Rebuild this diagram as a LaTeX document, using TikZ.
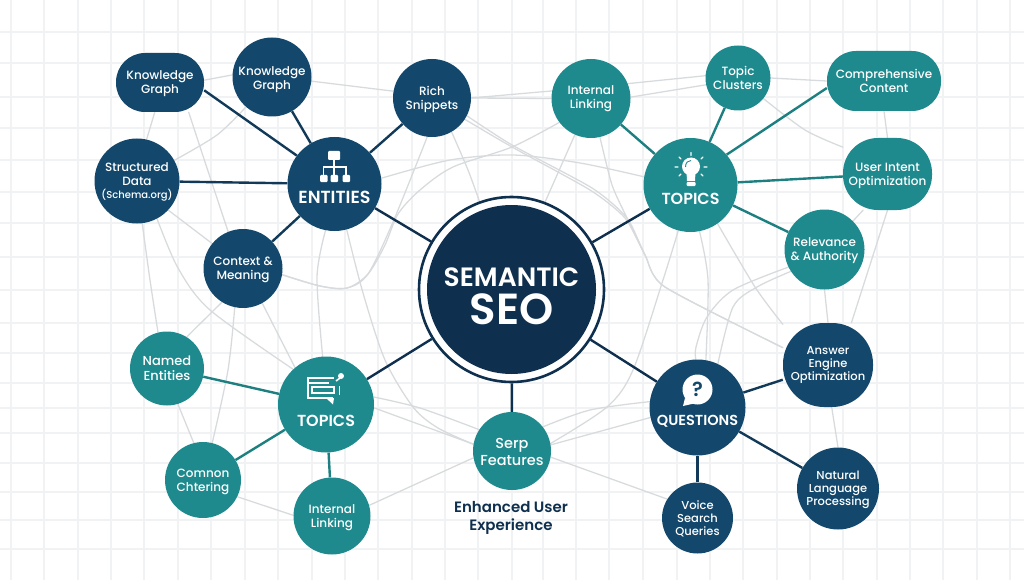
\documentclass[tikz,border=0pt]{standalone}
\usepackage{fontspec}
\setmainfont{Poppins}
\newfontfamily\pmed{Poppins Medium}
\newfontfamily\psemi{Poppins SemiBold}
\usetikzlibrary{backgrounds}
\definecolor{navy}{HTML}{0E2F4D}
\definecolor{deep}{HTML}{13486C}
\definecolor{spokeblue}{HTML}{123A58}
\definecolor{teal1}{HTML}{1E8A8E}
\definecolor{tealline}{HTML}{1D7F80}
\definecolor{gridc}{HTML}{F0F2F3}
\definecolor{linkc}{HTML}{D8DBDD}
\newcommand\dn[1]{\rule{0pt}{\dimexpr 8.9pt+#1pt*2\relax}}
\tikzset{
 blob/.style={inner sep=0pt,align=center,text=white,font=\pmed\fontsize{12}{14}\selectfont},
 dk/.style={blob,circle,fill=deep},
 tl/.style={blob,circle,fill=teal1},
 dkr/.style={blob,rectangle,fill=deep},
 tlr/.style={blob,rectangle,fill=teal1},
 hubtext/.style={inner sep=0pt,text=white,font=\psemi\fontsize{16}{18}\selectfont},
 link/.style={draw=linkc,line width=1.3pt,line cap=round},
 spokeD/.style={draw=navy,line width=2.4pt},
 spokeB/.style={draw=spokeblue,line width=2.4pt},
 spokeT/.style={draw=tealline,line width=2.4pt},
 gridl/.style={draw=gridc,line width=1.1pt},
 ic/.style={fill=white,draw=none},
 icl/.style={draw=white,line width=1.1pt},
}
\begin{document}
\begin{tikzpicture}[x=1pt,y=-1pt]
\useasboundingbox (0,0) rectangle (1024,580);
% nodes
\node[circle,fill=white,draw=navy,line width=2.6pt,minimum size=185pt,inner sep=0pt] (sem) at (511.5,289.5) {};
\node[circle,fill=navy,minimum size=169pt,inner sep=0pt] (semin) at (511.5,289.5) {};
\node[inner sep=0pt,text=white,font=\psemi\fontsize{26.5}{28}\selectfont] (semt) at (511.5,277) {SEMANTIC};
\node[inner sep=0pt,text=white,font=\psemi\fontsize{43.5}{46}\selectfont] (seot) at (511.5,309) {SEO};

\node[dkr,rounded corners=29pt,minimum width=88pt,minimum height=59pt] (kgA) at (160,82.5) {\dn{1}Knowledge\\Graph};
\node[dk,minimum size=79pt] (kgB) at (272,77) {\dn{2.5}Knowledge\\Graph};
\node[dk,minimum size=78pt] (rich) at (432,98) {\dn{2}Rich\\Snippets};
\node[dk,minimum size=85pt,font=\pmed\fontsize{12}{13.5}\selectfont] (sd) at (137,181) {\dn{1}Structured\\Data\\{\fontsize{10}{13}\selectfont (Schema.org)}};
\node[dk,minimum size=79pt] (ctx) at (243,268.5) {\dn{1}Context \&\\Meaning};
\node[dk,minimum size=94pt] (ent) at (334.5,184) {};
\node[hubtext,font=\psemi\fontsize{17.5}{18}\selectfont] (entt) at (334.5,197) {ENTITIES};

\node[tl,minimum size=79pt] (il) at (591,98.5) {Internal\\Linking};
\node[tl,minimum size=65pt] (tc) at (738,78) {Topic\\Clusters};
\node[tlr,rounded corners=29pt,minimum width=114pt,minimum height=60pt] (cc) at (884,81) {Comprehensive\\Content};
\node[tlr,rounded corners=35pt,minimum width=89pt,minimum height=72pt] (ui) at (887.5,174) {\dn{2}User Intent\\Optimization};
\node[tl,minimum size=94pt] (top) at (690.5,185) {};
\node[hubtext] (topt) at (690.5,199) {TOPICS};
\node[tl,minimum size=80pt] (rel) at (824.5,249.5) {\dn{1}Relevance\\\& Authority};

\node[tl,minimum size=74pt,font=\pmed\fontsize{13}{15}\selectfont] (ne) at (167,368.5) {Named\\Entities};
\node[tl,minimum size=96pt] (tb) at (326,404.5) {};
\node[hubtext] (tbt) at (326,421) {TOPICS};
\node[tl,minimum size=76pt] (cm) at (203,480) {\dn{2}Comnon\\Chtering};
\node[tl,minimum size=77pt] (ib) at (332,516) {\dn{2}Internal\\Linking};
\node[tl,minimum size=78pt,font=\pmed\fontsize{14.5}{17}\selectfont] (serp) at (512,451) {\rule{0pt}{13pt}Serp\\Features};
\node[inner sep=0pt,align=center,text=navy,font=\psemi\fontsize{15}{18}\selectfont] (enh) at (511,518) {Enhanced User\\Experience};

\node[dk,minimum size=96pt] (q) at (697.5,407.5) {};
\node[hubtext,font=\psemi\fontsize{14.5}{18}\selectfont] (qt) at (697.5,421) {QUESTIONS};
\node[dkr,rounded corners=41pt,minimum width=90pt,minimum height=84pt,font=\pmed\fontsize{11.5}{13.2}\selectfont] (aeo) at (828,365) {Answer\\Engine\\Optimization};
\node[dk,minimum size=82pt,font=\pmed\fontsize{11.5}{13.2}\selectfont] (nlp) at (838,488.5) {\dn{1}Natural\\Language\\Processing};
\node[dk,minimum size=71pt,font=\pmed\fontsize{11.5}{13.2}\selectfont] (vq) at (697.5,518) {\dn{1}Voice\\Search\\Queries};

% icons
\fill[ic,rounded corners=1pt] (328,151) rectangle (340,160);
\draw[icl] (334,160) -- (334,175) (323.5,175) -- (323.5,167) -- (346,167) -- (346,175);
\foreach \ix in {320,330.5,342.5}{\fill[ic,rounded corners=1pt] (\ix,175) rectangle ++(7.5,7);}

\fill[ic] (691,166.5) circle (9pt);
\fill[ic] (686.5,172) -- (695.5,172) -- (695,181) -- (687,181) -- cycle;
\fill[ic,rounded corners=1pt] (686.5,182) rectangle (695.5,186);
\draw[teal1,line width=.9pt] (685.5,167) .. controls (685.5,162.5) and (688,160.5) .. (691,160.5);
\draw[icl,line width=1.2pt,line cap=round] (691,152.5)--(691,155.5) (679,157)--(681,159) (703,157)--(701,159) (675,167)--(678,167) (704,167)--(707,167) (679,176)--(681,174) (703,176)--(701,174);

\draw[icl,line width=2.6pt] (307,378) -- (334,378) (307,398) -- (333,398);
\draw[icl,line width=1.8pt] (308,378) -- (308,398) (308,383) -- (329,383);
\draw[icl,line width=1.4pt] (312,387) rectangle (334,393);
\fill[ic] (326,398) -- (334,398) -- (333,404.5) -- cycle;
\fill[ic] (341,376) circle (3pt);
\draw[icl,line width=1.6pt] (340,378) -- (336,381);
\draw[icl,line width=1.2pt] (339.5,386) -- (339.5,395);

\fill[ic] (697.5,389.5) circle (15pt);
\fill[ic] (685,398) -- (683,406) -- (694,403.5) -- cycle;
\node[inner sep=0pt,text=deep,font=\psemi\fontsize{20}{20}\selectfont] (qm) at (697.5,389.5) {?};

\begin{pgfonlayer}{background}
% grid
\foreach \gx in {11,44,78,111,144,178,211,245,278,312,345,378,412,445,478,512,543,576,609,643,677,710,743,777,810,843,877,910,943,977,1010}
  {\draw[gridl] (\gx,0) -- (\gx,580);}
\foreach \gy in {32,63,97,128,160,192,223,257,290,323,353,383,408,433,463,492,520,549}
  {\draw[gridl] (0,\gy) -- (1024,\gy);}
% gray links
\draw[link] (kgA.3) -- (kgB.177);
\draw[link] (kgB.-6) -- (rich.170);
\draw[link] (kgA.260) -- (sd.77);
\draw[link] plot[smooth] coordinates {(kgA.-46) (206,165) (ctx.112)};
\draw[link] plot[smooth] coordinates {(kgB.229) (217,135) (sd.29)};
\draw[link] (sd.-43) -- (ctx.141);
\draw[link] plot[smooth] coordinates {(sd.-83) (150,280) (ne.104)};
\draw[link] plot[smooth] coordinates {(sd.-62) (178,268) (210,310) (tb.133)};
\draw[link] (ctx.238) -- (ne.58);
\draw[link] plot[smooth] coordinates {(ctx.258) (228,370) (cm.76)};
\draw[link] (ctx.-61) -- (tb.130);
\draw[link] (ne.-73) -- (cm.104);
\draw[link] (cm.-26) -- (ib.179);
\draw[link] (ib.16) -- (serp.190);
\draw[link] plot[smooth] coordinates {(tb.9) (420,408) (serp.147)};
\draw[link] (tb.-4) -- (serp.170);
\draw[link] plot[smooth] coordinates {(ent.259) (317,277) (tb.94)};
\draw[link] plot[smooth] coordinates {(ent.-75) (363,293) (385,360) (413,407) (438,428) (serp.170)};
\draw[link] plot[smooth,tension=.5] coordinates {(ctx.-9) (320,286) (347,288) (368,274) (393,222) (rich.263)};
\draw[link] plot[smooth,tension=.5] coordinates {(il.217) (512,147) (453,167) (420,190) (398,214) (385,245) (368,274) (347,288) (320,286) (ctx.-9)};
\draw[link] plot[smooth] coordinates {(ent.7) (450,160) (513,155) (580,163) (top.170)};
\draw[link] plot[smooth,tension=.4] coordinates {(rich.-33) (512,147) (590,190) (625,218) (645,255) (665,287) (aeo.159)};
\draw[link] plot[smooth,tension=.4] coordinates {(rich.-27) (512,145) (592,188) (627,218) (645,255) (665,287) (aeo.159)};
\draw[link] plot[smooth,tension=.4] coordinates {(il.283) (612,185) (627,218) (645,255)};
\draw[link] plot[smooth] coordinates {(rich.-60) (468,170) (sem.110)};
\draw[link] (il.246) -- (sem.69);
\draw[link] (rich.0) -- (il.169);
\draw[link] (rich.0) -- (il.180);
\draw[link] (il.22) -- (tc.176);
\draw[link] (il.2) -- (tc.192);
\draw[link] (tc.0) -- (cc.180);
\draw[link] plot[smooth] coordinates {(tc.-39) (805,130) (ui.149)};
\draw[link] (cc.270) -- (ui.90);
\draw[link] (ui.236) -- (rel.45);
\draw[link] (ui.-90) -- (aeo.61);
\draw[link] (rel.270) -- (aeo.90);
\draw[link] (aeo.-85) -- (nlp.90);
\draw[link] plot[smooth] coordinates {(top.255) (663,280) (633,370) (607,407) (serp.11)};
\draw[link] plot[smooth] coordinates {(top.-79) (708,280) (q.80)};
\draw[link] plot[smooth] coordinates {(top.-55) (755,287) (aeo.138)};
\draw[link] plot[smooth] coordinates {(rel.206) (733,290) (707,317) (696,347) (q.92)};
\draw[link] plot[smooth] coordinates {(rel.213) (757,287) (733,307) (q.65)};
\draw[link] plot[smooth] coordinates {(serp.38) (590,410) (q.173)};
\draw[link] (serp.9) -- (q.192);
\draw[link] (serp.-9) -- (vq.148);
% spokes
\draw[spokeD] (sem) -- (ent);
\draw[spokeD] (sem) -- (top);
\draw[spokeD] (sem) -- (tb);
\draw[spokeD] (sem) -- (q);
\draw[spokeD] (sem) -- (serp);
\draw[spokeB] (kgA.-10) -- (ent.143);
\draw[spokeB] (kgB) -- (ent);
\draw[spokeB] (rich) -- (ent);
\draw[spokeB] (sd) -- (ent);
\draw[spokeB] (ctx) -- (ent);
\draw[spokeT] (il) -- (top);
\draw[spokeT] (tc) -- (top);
\draw[spokeT] (cc.187) -- (top.40);
\draw[spokeT] (ui) -- (top);
\draw[spokeT] (rel) -- (top);
\draw[spokeT] (ne) -- (tb);
\draw[spokeT] (cm) -- (tb);
\draw[spokeT] (ib) -- (tb);
\draw[spokeB] (aeo) -- (q);
\draw[spokeB] (nlp) -- (q);
\draw[spokeB] (vq) -- (q);
\end{pgfonlayer}
\end{tikzpicture}
\end{document}
